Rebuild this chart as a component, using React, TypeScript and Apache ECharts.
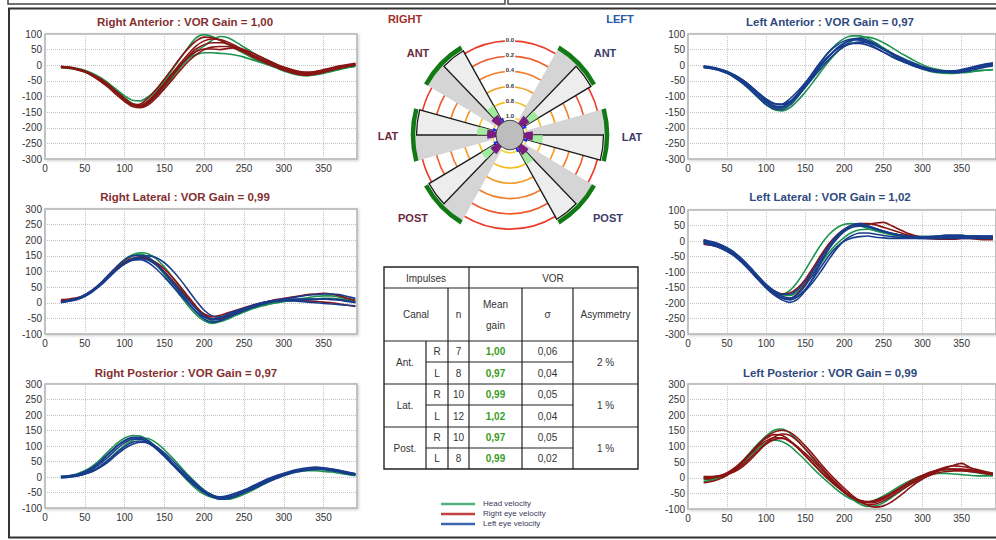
import React, { useEffect, useRef } from 'react';
import * as echarts from 'echarts';

// ---------- DATA ----------
const timeMs = [20,30,40,50,60,70,80,90,100,110,120,130,140,150,160,170,180,190,200,210,220,230,240,250,260,270,280,290,300,310,320,330,340,350,360,370,380,390];

// Right Anterior
const raHead = [
  [-5,-7,-12,-18,-28,-42,-60,-82,-104,-122,-128,-112,-84,-50,-14,22,58,88,98,92,80,66,52,38,24,12,2,-8,-18,-26,-32,-34,-30,-24,-18,-12,-6,-2],
  [-8,-10,-14,-22,-34,-50,-70,-92,-114,-130,-134,-122,-100,-72,-40,-8,20,44,62,80,92,88,74,58,42,28,16,4,-8,-18,-26,-30,-30,-26,-20,-14,-8,-4],
  [-4,-6,-10,-16,-26,-40,-58,-78,-98,-112,-114,-100,-78,-52,-24,2,22,34,40,40,38,36,32,26,18,10,2,-6,-14,-20,-24,-26,-24,-20,-16,-10,-6,-2],
];
const raRightEye = [
  [-6,-8,-13,-20,-31,-46,-65,-86,-108,-126,-132,-120,-96,-66,-34,-2,28,52,66,72,72,68,58,46,34,22,10,0,-10,-18,-24,-26,-24,-20,-14,-8,-4,0],
  [-3,-6,-11,-18,-30,-44,-62,-84,-106,-124,-128,-114,-88,-58,-26,6,36,62,78,84,82,74,62,48,34,20,8,-4,-14,-22,-28,-30,-28,-22,-16,-10,-4,2],
  [-7,-9,-14,-22,-35,-52,-72,-95,-116,-132,-136,-126,-104,-76,-46,-16,12,34,50,58,60,60,52,42,32,22,12,2,-8,-16,-22,-24,-20,-14,-8,-2,2,6],
  [-4,-7,-12,-19,-30,-45,-64,-86,-110,-126,-124,-104,-76,-44,-10,24,54,78,90,88,80,68,56,42,28,16,4,-6,-16,-24,-30,-32,-28,-22,-14,-6,0,4],
  [-5,-8,-12,-20,-32,-47,-66,-88,-110,-126,-130,-116,-92,-62,-30,0,26,44,52,52,50,54,56,50,40,28,16,4,-6,-14,-20,-22,-20,-16,-10,-4,0,4],
];

// Right Lateral
const rlHead = [
  [2,6,12,22,38,60,86,112,134,150,156,146,122,90,56,22,-10,-38,-58,-66,-60,-48,-36,-26,-18,-10,-4,0,4,6,8,10,12,14,14,12,8,4],
  [4,7,13,24,40,62,88,114,138,154,160,156,140,114,82,48,14,-18,-44,-58,-60,-52,-40,-30,-20,-12,-6,0,4,8,12,16,20,22,22,18,12,6],
];
const rlRightEye = [
  [10,12,16,24,40,62,86,110,130,142,146,140,124,100,72,42,12,-16,-36,-44,-40,-32,-24,-16,-8,-2,4,8,10,10,8,6,4,2,0,-4,-8,-12],
  [6,9,14,24,40,60,84,108,128,140,144,140,128,108,82,52,20,-12,-38,-50,-50,-42,-30,-20,-10,-2,4,10,14,18,22,26,28,30,28,22,14,8],
];
const rlLeftEye = [
  [0,6,12,22,38,58,82,106,126,138,142,136,120,96,68,38,8,-20,-42,-54,-54,-46,-36,-26,-16,-8,0,6,10,12,12,12,12,12,10,8,4,0],
  [2,7,14,26,42,64,90,116,138,150,152,144,124,96,64,32,0,-30,-52,-62,-58,-46,-34,-22,-12,-4,2,6,8,8,8,10,10,12,12,10,6,2],
  [3,8,12,22,38,58,82,106,126,140,148,150,144,128,104,74,40,6,-24,-42,-46,-40,-30,-20,-10,-2,4,8,12,16,20,24,26,28,28,26,20,14],
  [1,5,10,20,36,56,80,104,124,136,138,128,108,82,54,26,-2,-28,-46,-52,-46,-36,-26,-18,-10,-4,0,4,6,6,4,2,0,-2,-4,-6,-8,-10],
];

// Right Posterior
const rpHead = [
  [2,4,10,20,36,58,84,108,126,134,132,118,96,70,42,14,-14,-38,-56,-66,-70,-66,-58,-46,-34,-22,-10,0,8,14,18,20,20,18,16,12,8,4],
  [-2,0,4,10,20,36,56,80,102,118,126,124,110,88,62,34,6,-20,-42,-58,-68,-72,-66,-56,-44,-30,-16,-4,6,14,20,24,26,26,24,20,14,10],
];
const rpLeftEye = [
  [0,2,6,14,26,44,66,90,110,122,122,110,90,66,40,14,-10,-32,-50,-62,-66,-62,-54,-44,-32,-20,-8,2,10,17,22,25,26,25,22,18,12,8],
  [-3,-1,3,10,20,36,56,78,98,112,116,108,92,70,46,20,-6,-30,-50,-64,-72,-70,-62,-50,-38,-24,-12,-2,8,16,22,26,28,28,26,22,16,10],
  [2,4,8,16,30,50,74,98,116,126,124,112,92,68,42,16,-8,-30,-48,-60,-64,-60,-52,-42,-30,-18,-6,4,12,20,26,30,32,30,26,20,14,8],
  [0,1,4,10,18,32,50,72,92,106,112,110,98,78,54,28,2,-22,-44,-58,-66,-66,-60,-50,-40,-28,-16,-6,4,12,18,22,24,24,22,18,14,10],
  [1,3,8,18,32,52,76,100,118,128,128,116,96,72,46,20,-4,-26,-46,-60,-68,-68,-60,-50,-38,-26,-14,-2,8,16,22,26,26,24,20,16,10,6],
];

// Left Anterior
const laHead = [
  [-4,-8,-14,-24,-38,-56,-78,-100,-120,-136,-140,-124,-96,-62,-26,10,42,68,86,94,94,86,72,56,40,24,10,-2,-12,-20,-24,-26,-26,-24,-22,-18,-16,-14],
  [-6,-10,-16,-26,-40,-58,-80,-104,-126,-142,-146,-136,-114,-86,-54,-20,12,40,62,78,88,90,84,72,58,42,28,14,2,-8,-14,-18,-20,-20,-20,-18,-16,-14],
];
const laLeftEye = [
  [-5,-8,-14,-22,-34,-50,-70,-92,-114,-130,-132,-118,-94,-64,-32,0,28,52,70,80,82,76,64,50,36,22,10,0,-8,-14,-18,-20,-20,-18,-14,-8,-2,2],
  [-2,-6,-12,-20,-32,-48,-68,-90,-110,-124,-124,-108,-84,-56,-26,4,30,50,64,70,70,64,54,42,30,18,8,-2,-10,-16,-20,-22,-22,-18,-12,-4,2,6],
  [-8,-11,-17,-26,-40,-58,-80,-104,-126,-140,-142,-128,-102,-70,-36,-2,28,54,72,84,86,80,68,52,38,24,12,2,-6,-12,-16,-18,-18,-14,-8,-2,4,8],
  [-4,-7,-12,-20,-32,-47,-66,-88,-108,-122,-126,-116,-96,-70,-40,-10,18,42,60,70,74,72,64,52,40,28,16,6,-4,-12,-18,-22,-24,-22,-18,-12,-6,-2],
  [-6,-9,-15,-24,-36,-53,-74,-97,-119,-134,-136,-120,-92,-58,-22,12,42,64,78,84,80,70,56,42,28,16,6,-4,-12,-18,-22,-22,-20,-16,-10,-4,0,4],
];

// Left Lateral
const llHead = [
  [0,-6,-14,-26,-42,-64,-90,-118,-144,-164,-172,-160,-132,-94,-52,-12,20,42,54,56,50,40,32,26,20,16,14,12,10,10,10,10,10,10,10,10,10,10],
  [-4,-10,-18,-30,-46,-68,-94,-122,-148,-166,-176,-176,-164,-140,-108,-72,-38,-10,12,28,36,38,36,30,24,20,16,14,14,14,14,14,14,14,14,14,14,14],
];
const llRightEye = [
  [-10,-14,-20,-32,-48,-70,-96,-124,-150,-170,-184,-186,-170,-138,-96,-54,-16,14,36,50,56,56,52,44,36,28,20,14,10,8,8,8,8,10,10,10,10,10],
  [2,-4,-12,-24,-40,-62,-88,-116,-142,-160,-170,-168,-152,-124,-86,-46,-10,18,38,50,54,54,58,60,50,38,26,18,12,8,6,6,6,8,8,6,4,4],
];
const llLeftEye = [
  [4,-2,-10,-22,-38,-60,-86,-114,-140,-160,-172,-172,-158,-130,-94,-54,-16,16,38,50,52,46,38,30,24,18,14,10,8,8,8,10,10,10,10,10,10,10],
  [-2,-8,-16,-28,-44,-66,-92,-120,-146,-168,-184,-190,-180,-156,-122,-84,-48,-20,0,10,14,16,12,10,8,8,8,8,8,8,8,8,8,8,8,8,8,8],
  [-6,-12,-20,-32,-48,-70,-96,-124,-150,-170,-184,-186,-172,-144,-106,-64,-26,6,30,44,48,46,40,32,26,20,16,12,10,10,12,14,14,14,14,14,14,14],
  [0,-6,-14,-26,-42,-64,-90,-118,-144,-164,-178,-184,-178,-160,-132,-98,-60,-26,2,18,26,26,22,18,14,12,10,10,12,14,16,18,18,18,16,16,14,14],
  [-8,-14,-22,-34,-50,-72,-98,-126,-152,-174,-190,-198,-188,-160,-118,-70,-26,10,36,52,56,50,40,32,24,20,16,14,14,14,16,18,18,18,16,16,16,16],
];

// Left Posterior
const lpHead = [
  [-12,-8,0,12,30,54,82,110,134,152,156,144,120,92,62,32,4,-22,-46,-68,-84,-92,-90,-80,-64,-46,-28,-12,2,14,22,26,26,24,20,16,12,8],
  [-6,-4,2,12,26,46,70,94,112,120,116,102,80,56,30,6,-16,-38,-56,-70,-78,-78,-70,-58,-44,-28,-14,-2,6,12,14,14,12,10,8,6,6,6],
];
const lpRightEye = [
  [0,2,6,16,32,54,80,106,126,138,136,120,96,70,44,18,-6,-28,-48,-64,-74,-78,-74,-64,-50,-34,-18,-4,8,18,24,28,28,26,22,18,14,10],
  [-16,-12,-4,8,26,50,78,106,130,146,152,146,128,102,74,44,16,-10,-34,-56,-74,-88,-94,-90,-78,-60,-40,-20,-4,10,22,32,40,46,34,24,16,12],
  [4,4,6,12,24,42,64,88,108,122,126,118,100,78,54,28,2,-22,-44,-62,-74,-80,-78,-68,-54,-38,-22,-8,4,14,22,26,28,28,26,22,18,14],
  [2,2,4,10,20,36,58,84,110,130,140,136,118,92,64,36,8,-18,-42,-62,-78,-86,-84,-74,-60,-44,-28,-14,-2,8,16,20,22,22,20,18,14,10],
  [-4,-2,4,14,30,52,76,100,118,128,128,116,96,72,46,20,-4,-26,-46,-62,-72,-76,-72,-62,-50,-36,-22,-8,4,16,26,34,38,36,32,26,20,14],
];

const panelTitles = [
  'Right Anterior : VOR Gain = 1,00',
  'Right Lateral : VOR Gain = 0,99',
  'Right Posterior : VOR Gain = 0,97',
  'Left Anterior : VOR Gain = 0,97',
  'Left Lateral : VOR Gain = 1,02',
  'Left Posterior : VOR Gain = 0,99',
];
const ringLabels = ['0.0', '0.2', '0.4', '0.6', '0.8', '1.0'];
const ringGains = [0, 0.2, 0.4, 0.6, 0.8, 1.0];

const tableCanals = ['Ant.', 'Lat.', 'Post.'];
const tableSides = ['R', 'L', 'R', 'L', 'R', 'L'];
const impulseCounts = ['7', '8', '10', '12', '10', '8'];
const meanGains = ['1,00', '0,97', '0,99', '1,02', '0,97', '0,99'];
const gainSigmas = ['0,06', '0,04', '0,05', '0,04', '0,05', '0,02'];
const asymmetries = ['2 %', '1 %', '1 %'];
const legendLabels = ['Head velocity', 'Right eye velocity', 'Left eye velocity'];

// ---------- STYLE / LAYOUT ----------
const GREEN = '#1e9450';
const RED = '#8a1414';
const BLUE = '#183c8c';
const FONT = 'Arial, "Liberation Sans", Helvetica, sans-serif';
const RIGHT_TITLE = '#843030';
const LEFT_TITLE = '#2e4a7e';

type Panel = {
  left: number; top: number; width: number; height: number;
  yMin: number; yMax: number; xMax: number;
  titleX: number; titleY: number; titleColor: string;
  groups: { color: string; traces: number[][] }[];
};

const panels: Panel[] = [
  { left: 45, top: 34, width: 312, height: 125, yMin: -300, yMax: 100, xMax: 392, titleX: 185, titleY: 22, titleColor: RIGHT_TITLE,
    groups: [{ color: GREEN, traces: raHead }, { color: RED, traces: raRightEye }] },
  { left: 45, top: 209, width: 312, height: 125, yMin: -100, yMax: 300, xMax: 392, titleX: 185, titleY: 197, titleColor: RIGHT_TITLE,
    groups: [{ color: GREEN, traces: rlHead }, { color: RED, traces: rlRightEye }, { color: BLUE, traces: rlLeftEye }] },
  { left: 45, top: 384, width: 312, height: 124, yMin: -100, yMax: 300, xMax: 392, titleX: 186, titleY: 373, titleColor: RIGHT_TITLE,
    groups: [{ color: GREEN, traces: rpHead }, { color: BLUE, traces: rpLeftEye }] },
  { left: 688, top: 34, width: 310, height: 125, yMin: -300, yMax: 100, xMax: 394, titleX: 830, titleY: 22, titleColor: LEFT_TITLE,
    groups: [{ color: GREEN, traces: laHead }, { color: BLUE, traces: laLeftEye }] },
  { left: 688, top: 210, width: 310, height: 124, yMin: -300, yMax: 100, xMax: 394, titleX: 830, titleY: 197, titleColor: LEFT_TITLE,
    groups: [{ color: GREEN, traces: llHead }, { color: RED, traces: llRightEye }, { color: BLUE, traces: llLeftEye }] },
  { left: 688, top: 384, width: 310, height: 125, yMin: -100, yMax: 300, xMax: 394, titleX: 830, titleY: 373, titleColor: LEFT_TITLE,
    groups: [{ color: GREEN, traces: lpHead }, { color: RED, traces: lpRightEye }] },
];

const deg = (d: number) => (d * Math.PI) / 180;

function txt(x: number, y: number, text: string, o: any = {}) {
  const align = o.align || 'center';
  return {
    type: 'text', x, y, silent: true, z: o.z || 10,
    style: {
      text, fontSize: o.fontSize || 10, fontWeight: o.fontWeight || 'normal', fontFamily: FONT,
      fill: o.fill || '#333', align, textAlign: align, verticalAlign: 'middle', textVerticalAlign: 'middle',
      backgroundColor: o.backgroundColor, padding: o.padding,
    },
  };
}

function line(x1: number, y1: number, x2: number, y2: number, stroke = '#222', lineWidth = 1.2) {
  return { type: 'line', silent: true, z: 10, shape: { x1, y1, x2, y2 }, style: { stroke, lineWidth } };
}

// sector helper in math angles (counter-clockwise degrees)
function sector(a1: number, a2: number, r0: number, r: number, style: any, z = 5) {
  return {
    type: 'sector', silent: true, z,
    shape: { cx: 0, cy: 0, r0, r, startAngle: deg(-a2), endAngle: deg(-a1), clockwise: true },
    style,
  };
}

function buildPolar() {
  const ringR = (g: number) => 17 + (1 - g) * 73.5;
  const ringColors = ['#ea3b2b', '#ee5a2c', '#f27c2b', '#f59a26', '#f7bd1c', '#f3d43a'];
  const children: any[] = [];
  ringGains.forEach((g, i) => {
    children.push({ type: 'circle', silent: true, z: 3, shape: { cx: 0, cy: 0, r: ringR(g) },
      style: { fill: 'none', stroke: ringColors[i], lineWidth: 1.6 } });
  });
  const axes = [135, 180, 225, 45, 0, -45];
  axes.forEach((a) => {
    children.push(sector(a, a + 15, 17, 95, { fill: '#d5d5d5' }, 5));
    children.push(sector(a - 15, a, 17, 93.5, { fill: '#ededed', stroke: '#1a1a1a', lineWidth: 1.3 }, 6));
    children.push(sector(a - 14.5, a - 0.5, 19, 33, { fill: '#a2ea9e' }, 7));
    children.push({ type: 'arc', silent: true, z: 8,
      shape: { cx: 0, cy: 0, r: 97, startAngle: deg(-(a + 15)), endAngle: deg(-(a - 15)), clockwise: true },
      style: { stroke: '#117a14', lineWidth: 4.5, fill: null } });
    children.push(sector(a - 13, a + 9, 11, 23, { fill: '#7a1c80' }, 8));
    children.push(sector(a - 22, a - 14, 12, 18, { fill: '#1a2cff' }, 8));
  });
  children.push({ type: 'circle', silent: true, z: 9, shape: { cx: 0, cy: 0, r: 14 },
    style: { fill: '#bdbdbd', stroke: '#444', lineWidth: 1 } });

  const group = { type: 'group', x: 510, y: 135, scaleX: 1, scaleY: 1.04, children };
  const labels: any[] = ringLabels.map((l, i) =>
    txt(510, 135 - ringR(ringGains[i]) * 1.04 - 1, l, { fontSize: 6, fontWeight: 'bold', fill: '#333', backgroundColor: '#fff', padding: [0, 1], z: 12 }));
  const rc = '#6b2b3b';
  const lc = '#3b3b6b';
  labels.push(txt(405, 19, 'RIGHT', { fontSize: 11, fontWeight: 'bold', fill: '#a0302a' }));
  labels.push(txt(620, 19, 'LEFT', { fontSize: 11, fontWeight: 'bold', fill: '#2a58a8' }));
  labels.push(txt(418, 53, 'ANT', { fontSize: 11, fontWeight: 'bold', fill: rc }));
  labels.push(txt(388, 136, 'LAT', { fontSize: 11, fontWeight: 'bold', fill: rc }));
  labels.push(txt(413, 218, 'POST', { fontSize: 11, fontWeight: 'bold', fill: rc }));
  labels.push(txt(605, 53, 'ANT', { fontSize: 11, fontWeight: 'bold', fill: lc }));
  labels.push(txt(632, 137, 'LAT', { fontSize: 11, fontWeight: 'bold', fill: lc }));
  labels.push(txt(608, 218, 'POST', { fontSize: 11, fontWeight: 'bold', fill: lc }));
  return [group, ...labels];
}

function buildTable() {
  const X = [384, 426, 448, 469, 522, 573, 638];
  const Y = [267, 288, 341, 362, 384, 405, 427, 448, 469];
  const els: any[] = [];
  els.push({ type: 'rect', silent: true, z: 9, shape: { x: X[0], y: Y[0], width: X[6] - X[0], height: Y[8] - Y[0] },
    style: { fill: '#fff', stroke: '#222', lineWidth: 1.4 } });
  [Y[1], Y[2], Y[4], Y[6]].forEach((y) => els.push(line(X[0], y, X[6], y)));
  [Y[3], Y[5], Y[7]].forEach((y) => els.push(line(X[1], y, X[5], y)));
  els.push(line(X[3], Y[0], X[3], Y[8]));
  els.push(line(X[2], Y[1], X[2], Y[8]));
  els.push(line(X[1], Y[2], X[1], Y[8]));
  els.push(line(X[4], Y[1], X[4], Y[8]));
  els.push(line(X[5], Y[1], X[5], Y[8]));

  els.push(txt(426, 278, 'Impulses'));
  els.push(txt(553, 278, 'VOR'));
  els.push(txt(416, 314, 'Canal'));
  els.push(txt(458.5, 314, 'n'));
  els.push(txt(495.5, 304, 'Mean'));
  els.push(txt(495.5, 325, 'gain'));
  els.push(txt(547.5, 314, 'σ'));
  els.push(txt(605.5, 314, 'Asymmetry'));
  tableCanals.forEach((c, gi) => {
    const yc = (Y[2 + gi * 2] + Y[4 + gi * 2]) / 2;
    els.push(txt(405, yc, c));
    els.push(txt(605.5, yc, asymmetries[gi]));
  });
  tableSides.forEach((s, i) => {
    const yc = (Y[2 + i] + Y[3 + i]) / 2;
    els.push(txt(437, yc, s));
    els.push(txt(458.5, yc, impulseCounts[i]));
    els.push(txt(495.5, yc, meanGains[i], { fill: '#3a9d23', fontWeight: 'bold' }));
    els.push(txt(547.5, yc, gainSigmas[i]));
  });
  return els;
}

function buildLegend() {
  const colors = ['#4fb27e', '#c04040', '#3a66b0'];
  const ys = [504, 514, 524];
  const els: any[] = [];
  legendLabels.forEach((l, i) => {
    els.push(line(441, ys[i], 475, ys[i], colors[i], 2.5));
    els.push(txt(483, ys[i] - 1, l, { align: 'left', fontSize: 8, fill: '#3a3a5a' }));
  });
  return els;
}

function buildFrame() {
  return [
    { type: 'rect', silent: true, z: 1, shape: { x: 8, y: -20, width: 497, height: 24 }, style: { fill: 'none', stroke: '#444', lineWidth: 1.5 } },
    { type: 'rect', silent: true, z: 1, shape: { x: 508, y: -20, width: 500, height: 24 }, style: { fill: 'none', stroke: '#444', lineWidth: 1.5 } },
    { type: 'rect', silent: true, z: 1, shape: { x: 9, y: 8.5, width: 1000, height: 529 }, style: { fill: 'none', stroke: '#333', lineWidth: 2 } },
  ];
}

function buildOption() {
  const grid: any[] = [];
  const xAxis: any[] = [];
  const yAxis: any[] = [];
  const series: any[] = [];
  const titles: any[] = [];
  panels.forEach((p, i) => {
    grid.push({ left: p.left, top: p.top, width: p.width, height: p.height, show: true,
      backgroundColor: '#fff', borderColor: '#b0b0b0', borderWidth: 1.5,
      shadowColor: 'rgba(0,0,0,0.2)', shadowBlur: 3, shadowOffsetX: 1, shadowOffsetY: 1 });
    xAxis.push({ type: 'value', gridIndex: i, min: 0, max: p.xMax, interval: 50,
      axisLine: { show: false }, axisTick: { show: false },
      axisLabel: { fontSize: 10, color: '#333', fontFamily: FONT, margin: 4, showMaxLabel: false },
      splitLine: { show: true, lineStyle: { type: 'dotted', color: '#c4c4c4' } } });
    yAxis.push({ type: 'value', gridIndex: i, min: p.yMin, max: p.yMax, interval: 50,
      axisLine: { show: false }, axisTick: { show: false },
      axisLabel: { fontSize: 10, color: '#333', fontFamily: FONT, margin: 3 },
      splitLine: { show: true, lineStyle: { type: 'dotted', color: '#c4c4c4' } } });
    p.groups.forEach((g, gi) => {
      g.traces.forEach((tr) => {
        series.push({ type: 'line', xAxisIndex: i, yAxisIndex: i, symbol: 'none', silent: true,
          smooth: 0.25, z: 2 + gi,
          lineStyle: { color: g.color, width: 1.6 },
          data: timeMs.map((t, k) => [t, tr[k]]) });
      });
    });
    titles.push(txt(p.titleX, p.titleY, panelTitles[i], { fontSize: 11.5, fontWeight: 'bold', fill: p.titleColor }));
  });
  return {
    animation: false,
    backgroundColor: '#fff',
    grid, xAxis, yAxis, series,
    graphic: { elements: [...buildFrame(), ...titles, ...buildPolar(), ...buildTable(), ...buildLegend()] },
  };
}

export default function App() {
  const ref = useRef<HTMLDivElement>(null);
  useEffect(() => {
    if (!ref.current) return;
    const chart = echarts.init(ref.current, undefined, { renderer: 'svg' });
    chart.setOption(buildOption() as any);
    return () => chart.dispose();
  }, []);
  return <div ref={ref} style={{ position: 'fixed', left: 0, top: 0, width: 996, height: 540, background: '#fff' }} />;
}
